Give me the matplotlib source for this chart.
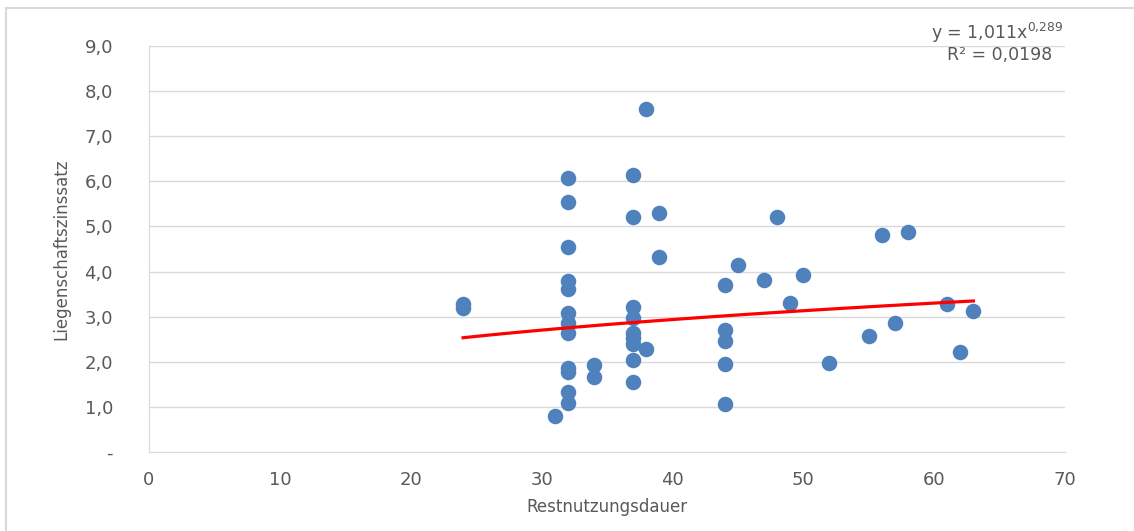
import numpy as np
import matplotlib.pyplot as plt
from matplotlib.patches import Rectangle

# Restnutzungsdauer (x) und Liegenschaftszinssatz (y)
restnutzungsdauer = [24, 24,
                     31,
                     32, 32, 32, 32, 32, 32, 32, 32, 32, 32, 32, 32,
                     34, 34,
                     37, 37, 37, 37, 37, 37, 37, 37, 37,
                     38, 38, 39, 39,
                     44, 44, 44, 44, 44,
                     45, 47, 48, 49, 50, 52, 55, 56, 57, 58, 61, 62, 63]
zinssatz = [3.27, 3.19,
            0.79,
            6.07, 5.54, 4.54, 3.79, 3.61, 3.09, 2.86, 2.63, 1.87, 1.78, 1.34, 1.08,
            1.93, 1.67,
            6.14, 5.21, 3.21, 2.96, 2.63, 2.52, 2.39, 2.04, 1.56,
            7.61, 2.28, 5.29, 4.33,
            3.70, 2.71, 2.47, 1.95, 1.07,
            4.15, 3.81, 5.21, 3.31, 3.93, 1.98, 2.58, 4.82, 2.87, 4.87, 3.28, 2.22, 3.13]

# Potenz-Trendlinie wie im Original angegeben
coef_a = 1.011
coef_b = 0.289
r2 = 0.0198

W, H = 1134, 531
fig = plt.figure(figsize=(W / 100, H / 100), dpi=100)
ax = fig.add_axes([149 / W, 1 - 452 / H, (1065 - 149) / W, (452 - 46) / H])

grid_col = '#d9d9d9'
text_col = '#595959'

ax.scatter(restnutzungsdauer, zinssatz, s=125, color='#4f81bd', zorder=3, linewidths=0)

xs = np.linspace(min(restnutzungsdauer), max(restnutzungsdauer), 100)
ax.plot(xs, coef_a * xs ** coef_b, color='#ff0000', lw=2.3, zorder=4)

ax.set_xlim(0, 70)
ax.set_ylim(0, 9)
ax.set_xticks(range(0, 71, 10))
ax.set_yticks(range(0, 10))
ax.set_yticklabels(['-'] + [f'{v},0' for v in range(1, 10)])
ax.grid(axis='y', color=grid_col, lw=1)
ax.set_axisbelow(True)

for side in ['top', 'right']:
    ax.spines[side].set_visible(False)
for side in ['left', 'bottom']:
    ax.spines[side].set_color(grid_col)
ax.tick_params(length=0, colors=text_col, labelsize=13)
ax.tick_params(axis='x', pad=14)
ax.tick_params(axis='y', pad=26)

ax.set_xlabel('Restnutzungsdauer', color=text_col, fontsize=12, labelpad=6)
ax.set_ylabel('Liegenschaftszinssatz', color=text_col, fontsize=12, labelpad=10)

ax.text(1063 / W, 1 - 33 / H, r'y = 1,011x$^{\mathregular{0{,}289}}$', transform=fig.transFigure,
        ha='right', va='center', color=text_col, fontsize=12.5)
ax.text(1052 / W, 1 - 55 / H, 'R² = 0,0198', transform=fig.transFigure,
        ha='right', va='center', color=text_col, fontsize=12.5)

# Rahmen des Diagrammbereichs
fig.patches.append(Rectangle((6 / W, -0.1), 1.2, 1 - 8 / H + 0.1, transform=fig.transFigure,
                             fill=False, edgecolor=grid_col, lw=1.5))

fig.savefig('out.png', dpi=100)
